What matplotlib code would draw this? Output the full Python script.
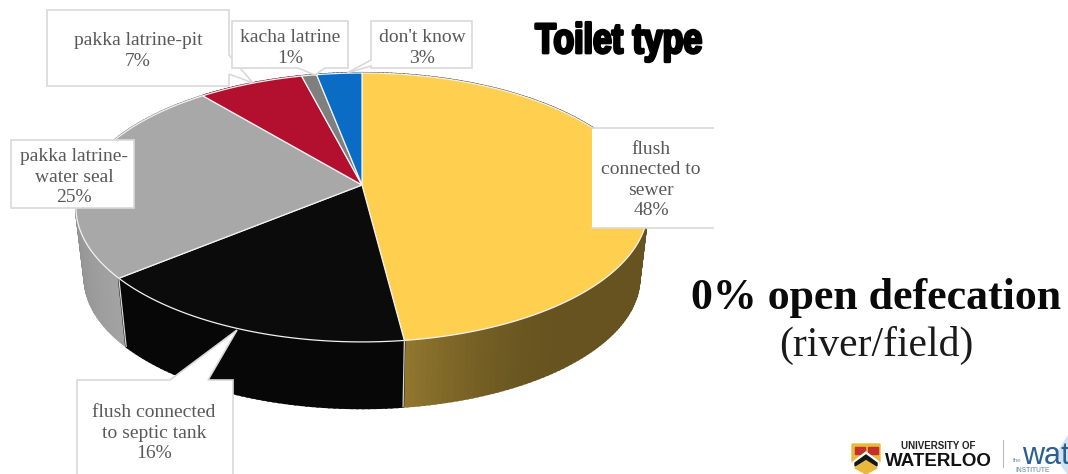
import numpy as np
import matplotlib
matplotlib.use('Agg')
import matplotlib.pyplot as plt
import matplotlib.patheffects as pe
from matplotlib.colors import to_rgb
from matplotlib.transforms import Affine2D

# Toilet type shares, clockwise from 12 o'clock
categories = ['flush\nconnected to\nsewer', 'flush connected\nto septic tank', 'pakka latrine-\nwater seal',
              'pakka latrine-pit', 'kacha latrine', "don't know"]
shares = [48, 16, 25, 7, 1, 3]

top_colors = ['#FFD04F', '#0B0B0B', '#A8A8A8', '#B30F2F', '#7F7F7F', '#0A6CC4']
# side wall colours at the start and end of the visible stretch of each slice
side_colors = [('#66531F', '#93782F'), ('#070707', '#070707'), ('#A3A3A3', '#858585'),
               ('#7A0A20', '#7A0A20'), ('#555555', '#555555'), ('#07488A', '#07488A')]

W, H = 1068, 474
CX, CY = 362, 185
RX, RY, K = 282, 130.7, 0.167
BOTTOM_CY, BOTTOM_S = 256, 0.97
LABEL_COLOR = '#595959'
BOX_EDGE = '#D9D9D9'


# perspective projection of the pie disc, angle clockwise from the top
def rim(theta, cy=CY, s=1.0):
    t = np.radians(theta)
    u, v = np.sin(t), np.cos(t)
    w = 1 + K * v
    return CX + s * RX * u / w, cy - s * RY * v / w


# heavy condensed lettering: stroke the glyphs and squeeze them around an x position
class Squeezed(pe.withStroke):
    def __init__(self, x0, factor, **kwargs):
        super().__init__(**kwargs)
        self.x0 = x0
        self.factor = factor

    def draw_path(self, renderer, gc, tpath, affine, rgbFace):
        squeeze = Affine2D().translate(-self.x0, 0).scale(self.factor, 1).translate(self.x0, 0)
        super().draw_path(renderer, gc, tpath, affine + squeeze, rgbFace)


fig = plt.figure(figsize=(W / 100, H / 100), dpi=100)
ax = fig.add_axes([0, 0, 1, 1])
ax.set_xlim(0, W)
ax.set_ylim(H, 0)
ax.axis('off')

edges = np.concatenate([[0], np.cumsum(shares)]) * 360 / np.sum(shares)

# side wall, strip by strip, back to front
strips = []
for i in range(len(shares)):
    a0, a1 = edges[i], edges[i + 1]
    for a in np.arange(a0, a1, 1.0):
        b = min(a + 1.0, a1)
        if i == 0:
            f = np.clip((a - 140) / (a1 - 140), 0, 1) ** 2
        elif i == 2:
            f = np.clip((a - 230) / 50, 0, 1)
        else:
            f = 0
        c = (1 - f) * np.array(to_rgb(side_colors[i][0])) + f * np.array(to_rgb(side_colors[i][1]))
        strips.append((np.cos(np.radians(a)), a, b, c))
for _, a, b, c in sorted(strips, key=lambda s: -s[0]):
    xt, yt = rim(np.array([a, b]))
    xb, yb = rim(np.array([b, a]), BOTTOM_CY, BOTTOM_S)
    ax.fill(np.r_[xt, xb], np.r_[yt, yb], color=c, lw=1.5, zorder=1)

# top surface
for i in range(len(shares)):
    th = np.linspace(edges[i], edges[i + 1], 120)
    x, y = rim(th)
    ax.fill(np.r_[CX, x], np.r_[CY, y], facecolor=top_colors[i], edgecolor='#F2F2F2', lw=0.9, zorder=2)

# seams down the wall at the two visible slice joins
for a in edges[1:3]:
    xt, yt = rim(a)
    xb, yb = rim(a, BOTTOM_CY, BOTTOM_S)
    ax.plot([xt, xb], [yt, yb], color='#D8D8D8', lw=0.9, zorder=3)


def callout(xs, ys):
    ax.fill(xs, ys, facecolor='white', edgecolor=BOX_EDGE, lw=1.2, zorder=4)


# label boxes with their pointers
callout([47, 229, 229, 253, 229, 229, 47], [10, 10, 55, 83, 74, 86, 86])
callout([232, 348, 348, 325, 315, 298, 232], [21, 21, 68, 68, 75, 68, 68])
callout([371, 472, 472, 371, 371, 347, 371], [21, 21, 68, 68, 66, 73, 60])
callout([11, 134, 134, 11], [140, 140, 208, 208])
callout([77, 170, 237, 208, 233, 233, 77], [380, 380, 330, 380, 380, 480, 480])
# the sewer box has only top and bottom rules
ax.fill([592, 713, 713, 592], [128, 128, 228, 228], facecolor='white', edgecolor='none', zorder=4)
ax.plot([592, 713], [128, 128], color=BOX_EDGE, lw=1.2, zorder=4)
ax.plot([592, 713], [228, 228], color=BOX_EDGE, lw=1.2, zorder=4)

label_pos = [(651, 180), (154, 433), (74, 177), (138, 51), (290, 48), (422, 48)]
for name, share, (lx, ly) in zip(categories, shares, label_pos):
    ax.text(lx, ly, f'{name}\n{share}%', ha='center', va='center', family='Liberation Serif',
            fontsize=14, color=LABEL_COLOR, linespacing=1.25, zorder=5)

# headings
ax.text(619, 42, 'Toilet type', ha='center', va='center', family='Liberation Sans',
        fontweight='bold', fontsize=30.5, color='black',
        path_effects=[Squeezed(619, 0.8, linewidth=2.0, foreground='black')])
ax.text(876, 298, '0% open defecation', ha='center', va='center', family='Liberation Serif',
        fontweight='bold', fontsize=31.6, color='#0A0A0A')
ax.text(876, 345, '(river/field)', ha='center', va='center', family='Liberation Serif',
        fontsize=30, color='#1A1A1A')

# University of Waterloo crest and wordmark
ax.fill([852, 880, 880, 877, 866, 855, 852], [444, 444, 461, 468, 474, 468, 461], color='#E8B93C', zorder=2)
ax.fill([855, 865, 865, 855], [447, 447, 454, 454], color='#C4302B', zorder=3)
ax.fill([868, 878, 878, 868], [447, 447, 454, 454], color='#C4302B', zorder=3)
ax.fill([853, 866, 879, 879, 866, 853], [462, 452, 462, 468, 458, 468], color='white', zorder=3)
ax.fill([855, 866, 877, 877, 866, 855], [463, 455, 463, 466, 459, 466], color='#151515', zorder=3)
ax.text(938, 446, 'UNIVERSITY OF', ha='center', va='center', family='Liberation Sans', fontweight='bold',
        fontsize=7, color='#222222')
ax.text(938, 461, 'WATERLOO', ha='center', va='center', family='Liberation Sans', fontweight='bold',
        fontsize=13.5, color='#111111')
ax.plot([1003, 1003], [440, 467], color='#BBBBBB', lw=0.8)
ax.fill([1058, 1068, 1068, 1062], [452, 436, 474, 466], color='#CFE3F2', zorder=1)
ax.text(1017, 460, 'the', ha='center', va='center', family='Liberation Sans', fontsize=4.5, color='#6F93B3')
ax.text(1022, 464, 'water', ha='left', va='baseline', family='Liberation Sans', fontsize=22, color='#2A5F8F',
        clip_on=True, zorder=2)
ax.text(1015, 470, 'INSTITUTE', ha='left', va='center', family='Liberation Sans', fontweight='bold', fontsize=4.8,
        color='#8FA6B8', zorder=3)

fig.savefig('out.png', dpi=100)
